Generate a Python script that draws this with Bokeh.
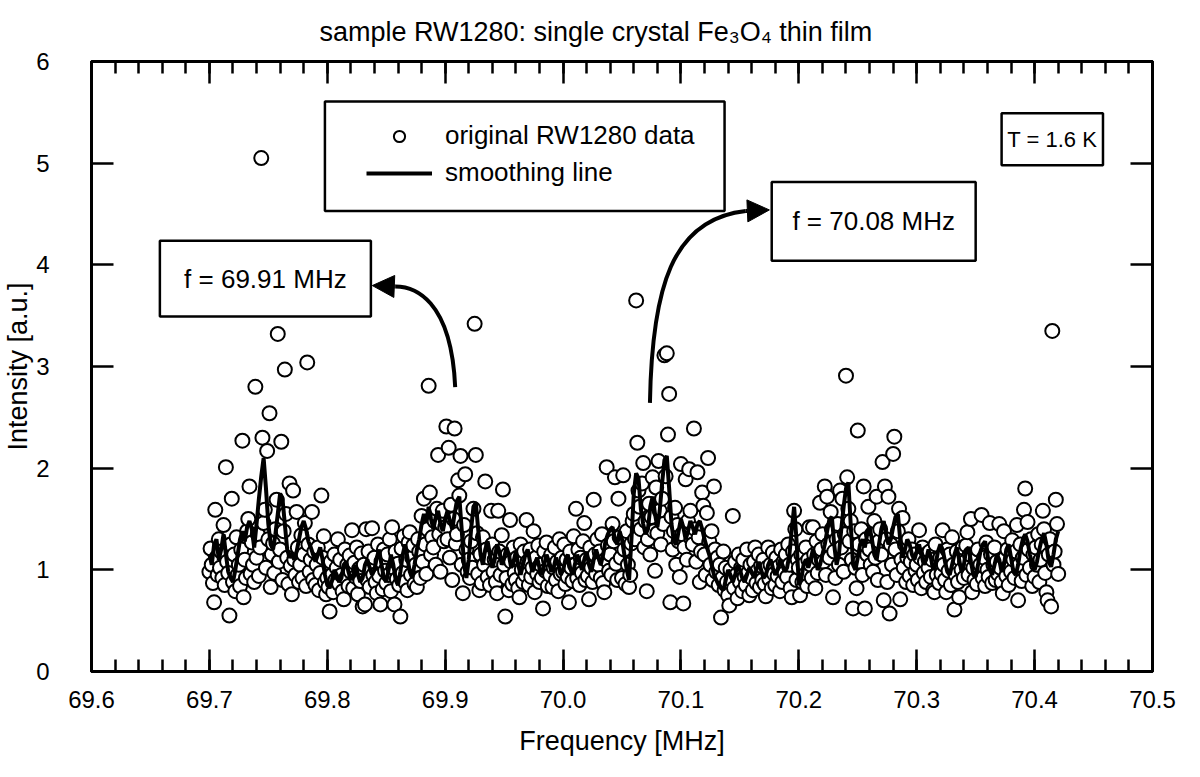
import numpy as np
from bokeh.plotting import figure
from bokeh.models import (Range1d, FixedTicker, LinearAxis, Legend, LegendItem,
                          BoxAnnotation, Label, Arrow, NormalHead,
                          NumeralTickFormatter, CustomJSTickFormatter)
from bokeh.embed import file_html
from bokeh.resources import INLINE

FONT = "Liberation Sans"

# ---------------- texts ----------------
title_text = "sample RW1280: single crystal Fe\u2083O\u2084 thin film"
x_label = "Frequency [MHz]"
y_label = "Intensity [a.u.]"
legend_labels = ["original RW1280 data", "smoothing line"]
note_left = "f = 69.91 MHz"
note_right = "f = 70.08 MHz"
note_temp = "T = 1.6 K"

# ---------------- ticks ----------------
x_ticks = [69.6, 69.7, 69.8, 69.9, 70.0, 70.1, 70.2, 70.3, 70.4, 70.5]
x_minor_ticks = [round(69.6 + 0.02 * k, 2) for k in range(46)]
y_ticks = [0, 1, 2, 3, 4, 5, 6]

# ---------------- data ----------------
freq_start = 69.700
freq_step = 0.001
intensity = [
    0.98, 1.21, 1.05, 0.87, 0.68, 1.59, 1.12, 0.95, 1.30, 1.02,
    1.18, 0.92, 1.44, 0.85, 2.01, 1.08, 0.97, 0.55, 1.25, 1.70,
    0.88, 1.15, 0.79, 1.32, 0.95, 1.05, 0.84, 1.20, 2.27, 0.73,
    1.10, 0.92, 1.38, 1.50, 1.82, 0.96, 1.27, 1.05, 0.88, 2.80,
    1.12, 1.35, 0.94, 1.22, 5.05, 2.30, 1.46, 1.59, 1.02, 2.17,
    1.30, 2.54, 0.83, 1.15, 1.26, 0.97, 1.40, 1.69, 3.32, 1.08,
    1.20, 2.26, 0.90, 1.38, 2.97, 1.55, 1.12, 0.86, 1.85, 1.04,
    0.76, 1.78, 1.10, 0.95, 1.57, 1.22, 0.88, 1.05, 1.34, 0.92,
    1.15, 1.46, 0.84, 3.04, 1.25, 0.98, 1.10, 1.57, 0.90, 1.18,
    0.85, 1.05, 1.22, 0.80, 0.97, 1.73, 1.12, 1.33, 0.88, 0.76,
    0.92, 0.83, 0.59, 1.08, 0.95, 0.78, 1.15, 0.90, 1.02, 1.30,
    0.86, 1.10, 0.95, 0.79, 0.71, 1.20, 0.92, 1.05, 0.84, 1.14,
    0.98, 1.39, 0.82, 1.07, 0.93, 1.22, 0.76, 1.01, 0.89, 1.16,
    0.64, 1.05, 0.66, 1.40, 0.90, 1.18, 0.83, 1.00, 1.41, 0.95,
    1.12, 0.88, 0.77, 1.25, 0.94, 0.66, 1.08, 0.81, 1.20, 0.99,
    0.87, 1.15, 0.95, 1.30, 0.79, 1.42, 1.02, 0.66, 1.18, 0.91,
    1.06, 0.85, 0.54, 1.21, 0.97, 1.33, 0.88, 1.10, 0.80, 1.27,
    1.37, 0.95, 1.12, 1.24, 0.86, 1.05, 0.83, 1.30, 1.18, 0.92,
    1.53, 1.08, 1.70, 1.25, 0.96, 1.40, 2.81, 1.76, 1.15, 1.32,
    1.22, 1.48, 1.05, 1.60, 2.13, 1.35, 0.98, 1.45, 1.58, 1.28,
    1.42, 2.41, 1.30, 2.20, 1.12, 1.64, 0.90, 1.50, 2.39, 1.26,
    1.35, 1.88, 1.73, 2.12, 1.05, 0.77, 1.44, 1.94, 1.20, 0.98,
    1.10, 0.92, 1.28, 1.02, 1.60, 3.42, 2.13, 1.36, 0.96, 0.80,
    1.15, 0.87, 1.32, 1.05, 1.87, 1.20, 0.93, 1.12, 0.85, 1.58,
    1.25, 0.98, 1.10, 0.88, 0.77, 1.58, 1.18, 0.95, 1.34, 1.79,
    1.05, 0.54, 0.92, 1.15, 0.80, 1.49, 1.08, 0.86, 1.22, 0.97,
    0.90, 1.12, 0.82, 0.73, 1.25, 1.00, 0.88, 1.18, 0.95, 1.49,
    1.08, 0.85, 1.20, 0.93, 1.02, 1.38, 0.78, 1.12, 0.96, 1.24,
    0.88, 1.05, 0.92, 0.62, 1.18, 0.99, 1.27, 0.84, 1.10, 0.95,
    1.15, 0.83, 1.02, 1.22, 0.90, 1.08, 0.79, 1.30, 0.96, 1.12,
    0.98, 1.25, 0.86, 1.10, 0.93, 0.68, 1.18, 1.02, 0.89, 1.33,
    1.05, 1.60, 0.92, 1.20, 0.85, 1.12, 0.97, 1.28, 1.46, 0.90,
    1.10, 0.94, 0.71, 1.22, 1.02, 0.88, 1.69, 1.15, 0.96, 1.30,
    1.05, 1.18, 0.92, 1.35, 0.87, 0.78, 1.10, 2.01, 1.24, 0.99,
    1.15, 0.95, 1.45, 1.28, 1.91, 1.06, 0.90, 1.70, 1.32, 1.12,
    0.92, 1.93, 1.20, 0.86, 1.38, 1.05, 0.83, 0.95, 1.26, 1.48,
    1.55, 1.30, 3.65, 2.25, 1.78, 1.62, 1.40, 1.85, 2.05, 1.22,
    1.48, 0.79, 1.30, 1.65, 1.15, 1.52, 1.91, 1.38, 0.99, 1.81,
    1.36, 2.07, 1.58, 1.25, 1.70, 1.45, 3.11, 1.92, 3.13, 2.33,
    2.73, 0.68, 1.52, 1.20, 1.38, 1.61, 1.05, 1.44, 1.28, 0.93,
    2.04, 1.35, 0.67, 1.22, 1.89, 1.10, 1.48, 1.99, 1.58, 1.30,
    1.25, 2.39, 1.40, 1.08, 1.96, 1.32, 0.88, 1.18, 1.76, 1.63,
    1.15, 0.95, 1.56, 2.10, 1.28, 1.05, 1.38, 0.90, 1.82, 1.20,
    0.98, 1.12, 0.85, 1.05, 0.53, 0.92, 1.18, 0.80, 1.02, 0.88,
    0.75, 0.65, 1.00, 0.90, 1.53, 0.82, 1.08, 0.95, 0.72, 1.15,
    0.88, 1.02, 0.79, 1.10, 0.93, 0.85, 1.20, 0.97, 0.75, 1.05,
    0.92, 0.80, 1.08, 1.22, 0.87, 0.99, 1.15, 0.83, 1.04, 0.90,
    1.10, 0.86, 0.74, 1.02, 1.22, 0.91, 1.05, 0.82, 1.17, 0.96,
    0.85, 1.12, 0.94, 1.03, 0.79, 1.20, 0.88, 1.08, 0.97, 1.15,
    0.93, 1.25, 1.05, 0.82, 0.73, 1.18, 1.58, 1.40, 0.90, 1.10,
    1.02, 0.75, 1.15, 0.88, 1.05, 0.95, 1.22, 0.84, 1.10, 1.42,
    1.05, 0.92, 1.42, 1.15, 0.82, 1.28, 0.97, 1.10, 1.66, 1.20,
    1.35, 1.08, 1.82, 0.95, 1.72, 1.25, 1.12, 1.57, 1.40, 0.73,
    1.18, 0.92, 1.30, 1.45, 1.05, 1.78, 1.22, 1.70, 0.98, 1.35,
    2.91, 1.91, 1.60, 1.28, 1.48, 1.10, 0.62, 1.38, 1.02, 0.82,
    2.37, 1.25, 1.08, 1.40, 0.95, 1.82, 0.62, 1.30, 1.15, 1.62,
    1.20, 1.05, 1.35, 0.98, 1.48, 1.12, 1.72, 0.90, 1.28, 1.40,
    1.15, 2.06, 0.70, 1.82, 1.30, 0.88, 1.72, 0.57, 1.25, 1.05,
    2.14, 2.31, 1.20, 0.95, 1.38, 1.60, 0.71, 1.10, 1.51, 1.02,
    1.25, 0.88, 1.12, 1.30, 0.94, 1.08, 1.20, 0.85, 1.15, 0.99,
    1.05, 0.90, 1.39, 1.12, 0.82, 1.22, 0.97, 1.08, 0.88, 1.16,
    1.02, 1.18, 0.93, 1.10, 0.80, 0.78, 1.25, 0.95, 1.08, 0.87,
    1.12, 0.96, 1.39, 1.05, 0.90, 0.78, 1.20, 0.99, 1.15, 0.85,
    1.32, 1.05, 0.61, 0.95, 1.18, 0.88, 0.73, 1.10, 1.00, 1.22,
    0.92, 1.08, 1.24, 1.37, 0.95, 1.15, 1.50, 0.78, 1.02, 0.90,
    1.10, 0.86, 1.20, 0.98, 1.05, 1.54, 0.92, 1.12, 0.84, 1.27,
    1.00, 0.93, 1.46, 1.15, 0.87, 1.05, 1.22, 0.90, 1.08, 0.96,
    1.45, 1.02, 0.88, 0.77, 1.38, 1.12, 0.94, 1.20, 0.85, 1.05,
    0.98, 1.29, 1.10, 0.92, 1.18, 1.44, 0.70, 1.05, 1.25, 0.89,
    1.12, 1.59, 1.80, 0.95, 1.47, 1.20, 1.02, 1.30, 0.84, 1.15,
    0.93, 1.22, 1.05, 1.35, 0.88, 1.10, 1.25, 1.58, 1.40, 0.97,
    0.78, 0.70, 1.15, 1.30, 0.64, 3.35, 1.05, 1.18, 1.69, 1.45,
    0.96,
]

smooth_start = 69.700
smooth_step = 0.002
smooth = [
    1.15, 1.05, 1.25, 1.30, 1.10, 1.20, 1.35, 1.15, 0.98, 0.92,
    0.88, 1.00, 1.15, 1.30, 1.38, 1.28, 1.42, 1.48, 1.40, 1.22,
    1.45, 1.70, 1.92, 2.10, 1.80, 1.45, 1.25, 1.20, 1.35, 1.55,
    1.75, 1.70, 1.45, 1.20, 1.12, 1.15, 1.10, 1.18, 1.30, 1.42,
    1.48, 1.40, 1.28, 1.22, 1.15, 1.08, 1.15, 1.22, 1.10, 0.95,
    0.85, 0.82, 0.90, 1.00, 0.95, 0.88, 0.92, 1.05, 1.08, 0.98,
    0.90, 0.95, 1.05, 0.95, 0.88, 0.92, 1.05, 1.10, 1.02, 0.95,
    1.00, 1.12, 1.20, 1.05, 0.92, 0.88, 1.00, 1.15, 1.05, 0.90,
    0.85, 0.98, 1.15, 1.25, 1.12, 0.98, 0.92, 1.05, 1.20, 1.30,
    1.45, 1.55, 1.48, 1.62, 1.50, 1.40, 1.52, 1.58, 1.45, 1.38,
    1.50, 1.58, 1.48, 1.40, 1.55, 1.68, 1.72, 1.40, 1.05, 0.92,
    1.10, 1.40, 1.62, 1.66, 1.40, 1.15, 1.05, 1.20, 1.28, 1.15,
    1.02, 1.10, 1.25, 1.18, 1.05, 1.12, 1.22, 1.15, 1.02, 1.08,
    1.18, 1.05, 0.95, 1.05, 1.15, 1.20, 1.08, 0.98, 1.05, 1.12,
    1.02, 0.95, 1.05, 1.15, 1.08, 0.98, 1.02, 1.12, 1.05, 0.95,
    1.00, 1.10, 1.15, 1.02, 0.95, 1.05, 1.15, 1.08, 1.00, 1.10,
    1.18, 1.05, 0.98, 1.10, 1.20, 1.12, 1.05, 1.15, 1.28, 1.35,
    1.40, 1.42, 1.30, 1.25, 1.38, 1.30, 1.15, 1.00, 0.90, 1.30,
    1.75, 1.95, 1.90, 1.60, 1.45, 1.35, 1.40, 1.62, 1.72, 1.55,
    1.42, 1.58, 1.85, 2.08, 2.12, 1.80, 1.45, 1.28, 1.25, 1.38,
    1.50, 1.42, 1.30, 1.38, 1.48, 1.42, 1.35, 1.45, 1.48, 1.40,
    1.30, 1.22, 1.15, 1.05, 0.95, 0.90, 0.85, 0.82, 0.80, 0.90,
    1.00, 0.95, 0.88, 0.95, 1.05, 1.00, 0.92, 0.88, 0.95, 1.02,
    0.98, 0.92, 1.00, 1.08, 1.00, 0.92, 0.95, 1.05, 1.10, 1.02,
    0.95, 1.00, 1.10, 1.05, 0.98, 1.02, 1.15, 1.40, 1.62, 1.30,
    0.85, 0.90, 1.05, 1.10, 1.02, 1.10, 1.20, 1.12, 1.00, 1.05,
    1.15, 1.25, 1.38, 1.50, 1.52, 1.25, 1.05, 1.15, 1.40, 1.62,
    1.80, 1.86, 1.45, 1.05, 1.00, 1.12, 1.25, 1.30, 1.22, 1.35,
    1.42, 1.30, 1.15, 1.10, 1.25, 1.40, 1.48, 1.35, 1.25, 1.30,
    1.42, 1.52, 1.55, 1.30, 1.12, 1.20, 1.30, 1.25, 1.15, 1.10,
    1.18, 1.25, 1.15, 1.05, 1.10, 1.20, 1.12, 1.00, 1.05, 1.18,
    1.25, 1.20, 1.08, 0.98, 0.95, 1.05, 1.15, 1.22, 1.10, 0.98,
    1.05, 1.20, 1.22, 1.08, 0.95, 0.93, 1.05, 1.18, 1.25, 1.28,
    1.15, 1.00, 0.95, 1.05, 1.15, 1.10, 0.98, 1.05, 1.20, 1.25,
    1.12, 0.98, 0.95, 1.05, 1.20, 1.30, 1.35, 1.28, 1.15, 1.05,
    1.00, 1.08, 1.20, 1.30, 1.36, 1.25, 1.08, 1.03, 1.15, 1.30,
    1.38,
]

freq = freq_start + freq_step * np.arange(len(intensity))
smooth_freq = smooth_start + smooth_step * np.arange(len(smooth))

# ---------------- annotation geometry (data units) ----------------
legend_box = dict(left=69.798, right=70.137, bottom=4.53, top=5.607)
box_left_note = dict(left=69.658, right=69.837, bottom=3.493, top=4.237)
box_right_note = dict(left=70.177, right=70.350, bottom=4.04, top=4.814)
box_temp = dict(left=70.372, right=70.458, bottom=4.98, top=5.49)
arrow1 = dict(x0=69.9085, y0=2.798, cx0=69.9051, cy0=3.669, cx1=69.8734, cy1=3.787,
              x1=69.8576, y1=3.787, tipx=69.8382, tipy=3.796)
arrow2 = dict(x0=70.0737, y0=2.642, cx0=70.0754, cy0=3.767, cx1=70.092, cy1=4.452,
              x1=70.155, y1=4.530, tipx=70.175, tipy=4.540)

# ---------------- figure ----------------
p = figure(width=1184, height=761,
           x_range=Range1d(69.6, 70.5), y_range=Range1d(0, 6),
           output_backend="svg", toolbar_location=None,
           min_border_left=90, min_border_right=32,
           min_border_top=60, min_border_bottom=90,
           background_fill_color="white", border_fill_color="white")
p.grid.visible = False
p.outline_line_color = "black"
p.outline_line_width = 3

p.title.text = title_text
p.title.align = "left"
p.title.offset = 228
p.title.text_font = FONT
p.title.text_font_size = "27px"
p.title.text_font_style = "normal"
p.title.text_color = "black"
p.title.standoff = 29

x_ticker = FixedTicker(ticks=x_ticks, minor_ticks=x_minor_ticks)
y_ticker = FixedTicker(ticks=y_ticks, minor_ticks=[])


def style_axis(ax, ticker):
    ax.ticker = ticker
    ax.axis_line_width = 3
    ax.axis_line_color = "black"
    ax.major_tick_in = 22
    ax.major_tick_out = 0
    ax.minor_tick_in = 12
    ax.minor_tick_out = 0
    ax.major_tick_line_width = 2.5
    ax.minor_tick_line_width = 2.5
    ax.major_tick_line_color = "black"
    ax.minor_tick_line_color = "black"
    ax.major_label_text_font = FONT
    ax.major_label_text_font_size = "24px"
    ax.major_label_text_color = "black"
    ax.axis_label_text_font = FONT
    ax.axis_label_text_font_size = "27px"
    ax.axis_label_text_font_style = "normal"
    ax.axis_label_text_color = "black"


style_axis(p.xaxis[0], x_ticker)
p.xaxis[0].formatter = NumeralTickFormatter(format="0.0")
p.xaxis[0].axis_label = x_label
p.xaxis[0].major_label_standoff = 19
p.xaxis[0].axis_label_standoff = 15

style_axis(p.yaxis[0], y_ticker)
p.yaxis[0].axis_label = y_label
p.yaxis[0].major_label_standoff = 42
p.yaxis[0].axis_label_standoff = 0

blank = CustomJSTickFormatter(code="return ''")
top_axis = LinearAxis(formatter=blank, major_label_standoff=0)
style_axis(top_axis, x_ticker)
right_axis = LinearAxis(formatter=blank, major_label_standoff=0)
style_axis(right_axis, y_ticker)
p.add_layout(top_axis, "above")
p.add_layout(right_axis, "right")

# ---------------- data glyphs ----------------
scatter_r = p.scatter(freq, intensity, marker="circle", size=14,
                      fill_color="white", line_color="black", line_width=2)
line_r = p.line(smooth_freq, smooth, line_color="black", line_width=4)

# ---------------- boxes ----------------
for b in (legend_box, box_left_note, box_right_note, box_temp):
    p.add_layout(BoxAnnotation(left=b["left"], right=b["right"], bottom=b["bottom"], top=b["top"],
                               fill_color="white", fill_alpha=1.0,
                               line_color="black", line_alpha=1.0, line_width=2.5,
                               level="underlay"))

legend = Legend(items=[LegendItem(label=legend_labels[0], renderers=[scatter_r]),
                       LegendItem(label=legend_labels[1], renderers=[line_r])],
                location=(275, 483), border_line_color=None, background_fill_alpha=0,
                padding=20, spacing=6, margin=0, glyph_width=66, glyph_height=28,
                label_height=28, label_standoff=13, label_text_font=FONT,
                label_text_font_size="26px", label_text_color="black")
p.add_layout(legend)

for b, txt, fs in ((box_left_note, note_left, "26px"), (box_right_note, note_right, "26px"),
                   (box_temp, note_temp, "22px")):
    p.add_layout(Label(x=(b["left"] + b["right"]) / 2, y=(b["bottom"] + b["top"]) / 2,
                       text=txt, text_align="center", text_baseline="middle",
                       text_font=FONT, text_font_size=fs, text_color="black"))

# ---------------- curved arrows ----------------
for a in (arrow1, arrow2):
    p.bezier(x0=[a["x0"]], y0=[a["y0"]], x1=[a["x1"]], y1=[a["y1"]],
             cx0=[a["cx0"]], cy0=[a["cy0"]], cx1=[a["cx1"]], cy1=[a["cy1"]],
             line_color="black", line_width=4)
    p.add_layout(Arrow(end=NormalHead(size=22, fill_color="black", line_color="black", line_width=1),
                       x_start=a["x1"], y_start=a["y1"], x_end=a["tipx"], y_end=a["tipy"],
                       line_color="black", line_width=4))

open("out.html", "w").write(file_html(p, INLINE))
